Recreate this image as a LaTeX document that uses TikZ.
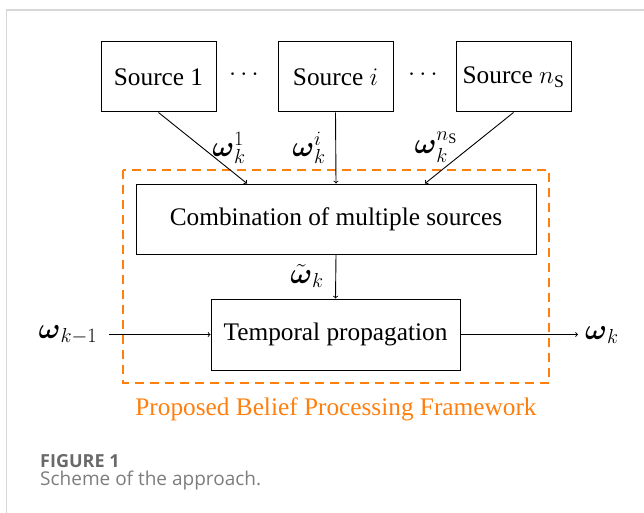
\RequirePackage{fix-cm}
\documentclass[tikz,border=0pt]{standalone}
\usepackage{amsmath,amsbsy}
\usepackage{fontspec}
\setmainfont{Liberation Serif}
\newfontfamily\capfont{Open Sans}
\usetikzlibrary{calc}
\definecolor{frameorange}{RGB}{255,127,14}
\definecolor{capgray}{RGB}{105,105,105}
\definecolor{capgraylight}{RGB}{125,125,125}
\definecolor{bordergray}{RGB}{215,215,215}
\newcommand{\bw}{\boldsymbol{\omega}}
\begin{document}
\begin{tikzpicture}[x=1pt,y=-1pt,
  box/.style={draw,line width=1pt,inner sep=0pt,font=\fontsize{25.3}{30}\selectfont},
  lbl/.style={inner sep=0pt,font=\fontsize{25.3}{30}\selectfont},
  mlbl/.style={inner sep=0pt,font=\fontsize{29}{34}\selectfont},
  conn/.style={line width=0.9pt,->}]
\useasboundingbox (0,0) rectangle (644,513);
\draw[bordergray,line width=1.5pt] (6.5,513) -- (6.5,10) -- (644,10);
% sources
\node[box,minimum width=115pt,minimum height=70pt] (s1) at (158.5,77) {Source 1};
\node[box,minimum width=115pt,minimum height=70pt] (si) at (335.5,77) {Source $i$};
\node[box,minimum width=115pt,minimum height=70pt] (sn) at (513.5,77) {Source $n_{\mathrm{S}}$};
\node[lbl] (d1) at (246,75) {$\cdots$};
\node[lbl] (d2) at (425,75) {$\cdots$};
% combination
\node[box,minimum width=400pt,minimum height=70pt] (comb) at (336,219) {Combination of multiple sources};
% temporal
\node[box,minimum width=249pt,minimum height=71pt] (temp) at (335.5,334.5) {Temporal propagation};
% dashed frame
\draw[frameorange,line width=1.5pt,dash pattern=on 9pt off 6pt] (123,170) rectangle (549,383);
\node[lbl,text=frameorange] (fw) at (336,409) {Proposed Belief Processing Framework};
% arrows from sources
\draw[conn] (s1.south) -- ([xshift=-89pt]comb.north);
\draw[conn] (si.south) -- (comb.north);
\draw[conn] (sn.south) -- ([xshift=89pt]comb.north);
\node[mlbl] (w1) at (229,148) {$\bw_k^1$};
\node[mlbl] (wi) at (309,148) {$\bw_k^i$};
\node[mlbl] (wn) at (436,147) {$\bw_k^{n_{\mathrm{S}}}$};
% comb to temp
\draw[conn] (comb.south) -- (temp.north);
\node[mlbl] (wt) at (307,276) {$\tilde{\bw}_k$};
% in/out
\node[mlbl] (win) at (68,335) {$\bw_{k-1}$};
\coordinate (win-start) at (109,334.5);
\coordinate (wout-end) at (578,334.5);
\node[mlbl,anchor=west] (wout) at (585,335) {$\bw_k$};
\draw[conn] (win-start) -- (temp.west);
\draw[conn] (temp.east) -- (wout-end);
% caption
\node[anchor=base west,inner sep=0pt,text=capgray,font=\capfont\bfseries\fontsize{18}{21}\selectfont] (figlbl) at (40,467) {FIGURE 1};
\node[anchor=base west,inner sep=0pt,text=capgraylight,font=\capfont\fontsize{19}{22}\selectfont] (figcap) at (40,485) {Scheme of the approach.};
\end{tikzpicture}
\end{document}
